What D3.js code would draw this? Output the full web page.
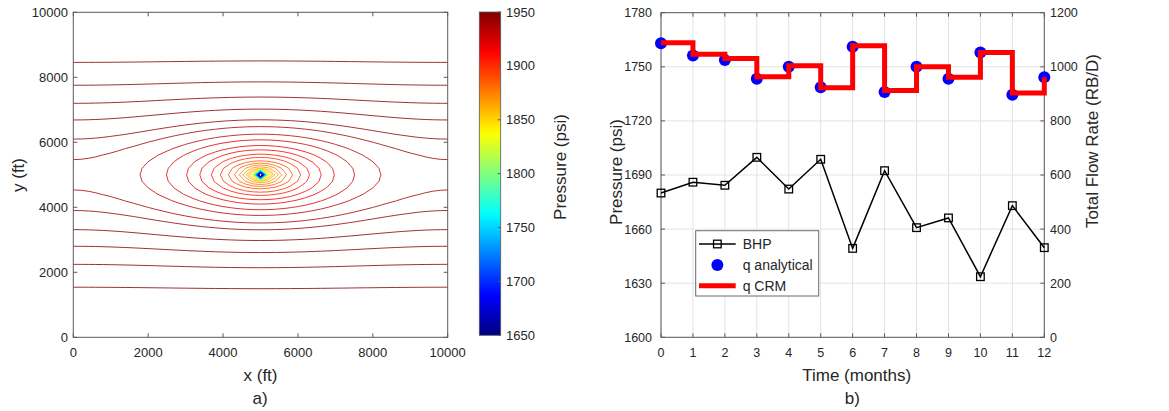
<!DOCTYPE html>
<html><head><meta charset="utf-8">
<script src="https://cdn.jsdelivr.net/npm/d3@7"></script>
<style>
html,body{margin:0;padding:0;background:#fff;}
svg{display:block;font-family:"Liberation Sans",Arial,Helvetica,sans-serif;}
</style></head><body>
<svg id="fig" width="1169" height="411"></svg>
<script>
// ---------- Panel (a): pressure contours around the producer ----------
const xTicksA = [0, 2000, 4000, 6000, 8000, 10000];
const yTicksA = [0, 2000, 4000, 6000, 8000, 10000];
const colorbarTicks = [1650, 1700, 1750, 1800, 1850, 1900, 1950];
const colorRange = [1650, 1950];

// reservoir / well description used to build the pressure grid
const wellX = 5000, wellY = 5000;       // ft
const reservoirWidth = 10000;           // ft, no-flow sides
const gridStep = 200;                   // ft
const anisotropy = 1.96;                // sqrt(kx/ky)
const fieldBase = 1926, fieldSlope = 36;   // psi
const wellNodePressure = 1600;          // psi at the well block

// contour levels (psi)
const outerLevels = [1990.7, 1975.8, 1964.6, 1955.2, 1946.2, 1940];
const ringLevels = [1932.5, 1926.1, 1918.9, 1912.6, 1905.4, 1898.5, 1890.6];
const innerLevels = [1883, 1876, 1869, 1862, 1855, 1848, 1841, 1834, 1827, 1820,
  1813, 1806, 1799, 1792, 1785, 1778, 1771, 1764, 1757, 1750, 1743, 1736, 1729,
  1722, 1715, 1708, 1701, 1694, 1687, 1680, 1673, 1666, 1659];

// ---------- Panel (b): BHP and rates ----------
const months = [0, 1, 2, 3, 4, 5, 6, 7, 8, 9, 10, 11, 12];
const bhp = [1680, 1686, 1684.3, 1699.8, 1682.2, 1698.7, 1649.3, 1692.4, 1660.8, 1666.2, 1633.6, 1673, 1649.7];
const qAnalytical = [1087, 1042, 1025, 956, 1000, 924, 1074, 907, 1000, 956, 1053, 897, 961];
const qCRM = [1089, 1046, 1031, 963, 1004, 923, 1078, 912, 1000, 961, 1053, 903, 961];
const pressureTicks = [1600, 1630, 1660, 1690, 1720, 1750, 1780];
const rateTicks = [0, 200, 400, 600, 800, 1000, 1200];
const legendLabels = ["BHP", "q analytical", "q CRM"];

const svg = d3.select("#fig");
const axisColor = "#5a5a5a", textColor = "#262626";

function jet(v) {
  const t = Math.max(0, Math.min(1, (v - colorRange[0]) / (colorRange[1] - colorRange[0])));
  const c = x => Math.round(255 * Math.max(0, Math.min(1, x)));
  return `rgb(${c(1.5 - Math.abs(4 * t - 3))},${c(1.5 - Math.abs(4 * t - 2))},${c(1.5 - Math.abs(4 * t - 1))})`;
}

// ===== Panel (a) =====
const A = {left: 73.3, right: 447.7, top: 12.3, bottom: 337.3};
const xA = d3.scaleLinear().domain([0, 10000]).range([A.left, A.right]);
const yA = d3.scaleLinear().domain([0, 10000]).range([A.bottom, A.top]);

// pressure grid (extends two blocks past each edge)
const pad = 2 * gridStep;
const n = Math.round((10000 + 2 * pad) / gridStep) + 1;
const period = reservoirWidth / anisotropy;
const values = new Array(n * n);
for (let j = 0; j < n; j++) {
  for (let i = 0; i < n; i++) {
    const x = -pad + i * gridStep, y = -pad + j * gridStep;
    const X = (x - wellX) / anisotropy, Y = y - wellY;
    let p;
    if (Math.abs(x - wellX) < 1e-6 && Math.abs(y - wellY) < 1e-6) {
      p = wellNodePressure;
    } else {
      const G = 0.5 * Math.log(Math.cosh(2 * Math.PI * Y / period) - Math.cos(2 * Math.PI * X / period));
      p = fieldBase + fieldSlope * G;
    }
    values[j * n + i] = p;
  }
}
const levels = outerLevels.concat(ringLevels, innerLevels);
const contours = d3.contours().size([n, n]).thresholds(levels)(values);
const gridToPx = d3.geoTransform({
  point(cx, cy) {
    this.stream.point(xA(-pad + (cx - 0.5) * gridStep), yA(-pad + (cy - 0.5) * gridStep));
  }
});
const pathA = d3.geoPath(gridToPx);

svg.append("defs").append("clipPath").attr("id", "clipA")
  .append("rect").attr("x", A.left).attr("y", A.top)
  .attr("width", A.right - A.left).attr("height", A.bottom - A.top);

const gA = svg.append("g");
gA.append("g").attr("clip-path", "url(#clipA)")
  .selectAll("path").data(contours.slice().reverse()).join("path")
  .attr("d", pathA)
  .attr("fill", "none")
  .attr("stroke", d => jet(d.value))
  .attr("stroke-opacity", 0.8)
  .attr("stroke-width", 1);

// frame and ticks
function frame(g, r) {
  g.append("rect").attr("x", r.left).attr("y", r.top)
    .attr("width", r.right - r.left).attr("height", r.bottom - r.top)
    .attr("fill", "none").attr("stroke", axisColor).attr("stroke-width", 1);
}
frame(gA, A);
const tl = 4;
xTicksA.forEach(v => {
  const x = xA(v);
  gA.append("line").attr("x1", x).attr("x2", x).attr("y1", A.bottom).attr("y2", A.bottom - tl).attr("stroke", axisColor);
  gA.append("line").attr("x1", x).attr("x2", x).attr("y1", A.top).attr("y2", A.top + tl).attr("stroke", axisColor);
  gA.append("text").attr("x", x).attr("y", 357).attr("text-anchor", "middle")
    .attr("font-size", 13).attr("fill", textColor).text(v);
});
yTicksA.forEach(v => {
  const y = yA(v);
  gA.append("line").attr("x1", A.left).attr("x2", A.left + tl).attr("y1", y).attr("y2", y).attr("stroke", axisColor);
  gA.append("line").attr("x1", A.right).attr("x2", A.right - tl).attr("y1", y).attr("y2", y).attr("stroke", axisColor);
  gA.append("text").attr("x", 68).attr("y", y + 4.6).attr("text-anchor", "end")
    .attr("font-size", 13).attr("fill", textColor).text(v);
});
gA.append("text").attr("x", 260.5).attr("y", 381).attr("text-anchor", "middle")
  .attr("font-size", 17).attr("fill", textColor).text("x (ft)");
gA.append("text").attr("transform", "translate(24,175) rotate(-90)").attr("text-anchor", "middle")
  .attr("font-size", 17).attr("fill", textColor).text("y (ft)");
gA.append("text").attr("x", 260).attr("y", 404).attr("text-anchor", "middle")
  .attr("font-size", 17).attr("fill", textColor).text("a)");

// colorbar
const CB = {left: 479.3, right: 500.7, top: 12, bottom: 335.3};
const cScale = d3.scaleLinear().domain(colorRange).range([CB.bottom, CB.top]);
const grad = svg.select("defs").append("linearGradient").attr("id", "jetGrad")
  .attr("x1", 0).attr("y1", 1).attr("x2", 0).attr("y2", 0);
d3.range(0, 1.0001, 0.02).forEach(t => {
  grad.append("stop").attr("offset", t).attr("stop-color", jet(colorRange[0] + t * (colorRange[1] - colorRange[0])));
});
svg.append("rect").attr("x", CB.left).attr("y", CB.top)
  .attr("width", CB.right - CB.left).attr("height", CB.bottom - CB.top)
  .attr("fill", "url(#jetGrad)").attr("stroke", axisColor).attr("stroke-width", 0.8);
colorbarTicks.forEach(v => {
  const y = cScale(v);
  svg.append("line").attr("x1", CB.right).attr("x2", CB.right - 3).attr("y1", y).attr("y2", y).attr("stroke", axisColor);
  svg.append("text").attr("x", 506).attr("y", y + 4.6).attr("font-size", 13).attr("fill", textColor).text(v);
});
svg.append("text").attr("transform", "translate(566,167) rotate(-90)").attr("text-anchor", "middle")
  .attr("font-size", 17).attr("fill", textColor).text("Pressure (psi)");

// ===== Panel (b) =====
const B = {left: 661, right: 1044.3, top: 12.7, bottom: 337.3};
const xB = d3.scaleLinear().domain([0, 12]).range([B.left, B.right]);
const yP = d3.scaleLinear().domain([1600, 1780]).range([B.bottom, B.top]);
const yQ = d3.scaleLinear().domain([0, 1200]).range([B.bottom, B.top]);
const gB = svg.append("g");
const tickFontB = 12.5;

// grid
months.forEach(m => gB.append("line").attr("x1", xB(m)).attr("x2", xB(m))
  .attr("y1", B.top).attr("y2", B.bottom).attr("stroke", "#e3e3e3"));
pressureTicks.forEach(v => gB.append("line").attr("x1", B.left).attr("x2", B.right)
  .attr("y1", yP(v)).attr("y2", yP(v)).attr("stroke", "#e3e3e3"));

frame(gB, B);
months.forEach(m => {
  const x = xB(m);
  gB.append("line").attr("x1", x).attr("x2", x).attr("y1", B.bottom).attr("y2", B.bottom - tl).attr("stroke", axisColor);
  gB.append("line").attr("x1", x).attr("x2", x).attr("y1", B.top).attr("y2", B.top + tl).attr("stroke", axisColor);
  gB.append("text").attr("x", x).attr("y", 357).attr("text-anchor", "middle")
    .attr("font-size", tickFontB).attr("fill", textColor).text(m);
});
pressureTicks.forEach(v => {
  const y = yP(v);
  gB.append("line").attr("x1", B.left).attr("x2", B.left + tl).attr("y1", y).attr("y2", y).attr("stroke", axisColor);
  gB.append("text").attr("x", 652).attr("y", y + 4.4).attr("text-anchor", "end")
    .attr("font-size", tickFontB).attr("fill", textColor).text(v);
});
rateTicks.forEach(v => {
  const y = yQ(v);
  gB.append("line").attr("x1", B.right).attr("x2", B.right - tl).attr("y1", y).attr("y2", y).attr("stroke", axisColor);
  gB.append("text").attr("x", 1050).attr("y", y + 4.4).attr("text-anchor", "start")
    .attr("font-size", tickFontB).attr("fill", textColor).text(v);
});

// BHP line with square markers
const bhpLine = d3.line().x((d, i) => xB(months[i])).y(d => yP(d));
gB.append("path").attr("d", bhpLine(bhp)).attr("fill", "none").attr("stroke", "#000").attr("stroke-width", 1.5);
gB.selectAll("rect.bhp").data(bhp).join("rect").attr("class", "bhp")
  .attr("x", (d, i) => xB(months[i]) - 3.8).attr("y", d => yP(d) - 3.8)
  .attr("width", 7.6).attr("height", 7.6)
  .attr("fill", "none").attr("stroke", "#000").attr("stroke-width", 1.3);

// analytical rate points
gB.selectAll("circle.qa").data(qAnalytical).join("circle").attr("class", "qa")
  .attr("cx", (d, i) => xB(months[i])).attr("cy", d => yQ(d)).attr("r", 6)
  .attr("fill", "#0000ff");

// CRM rate, stepwise
const crmLine = d3.line().curve(d3.curveStepAfter).x((d, i) => xB(months[i])).y(d => yQ(d));
gB.append("path").attr("d", crmLine(qCRM)).attr("fill", "none")
  .attr("stroke", "#ff0000").attr("stroke-width", 5).attr("stroke-linejoin", "miter");

// labels
gB.append("text").attr("x", 856.7).attr("y", 381).attr("text-anchor", "middle")
  .attr("font-size", 17).attr("fill", textColor).text("Time (months)");
gB.append("text").attr("x", 852.3).attr("y", 404).attr("text-anchor", "middle")
  .attr("font-size", 17).attr("fill", textColor).text("b)");
gB.append("text").attr("transform", "translate(622,172) rotate(-90)").attr("text-anchor", "middle")
  .attr("font-size", 17).attr("fill", textColor).text("Pressure (psi)");
gB.append("text").attr("transform", "translate(1098,141) rotate(-90)").attr("text-anchor", "middle")
  .attr("font-size", 17).attr("fill", textColor).text("Total Flow Rate (RB/D)");

// legend
const L = {x: 695.7, y: 230.7, w: 123, h: 65.3};
const gL = gB.append("g");
gL.append("rect").attr("x", L.x).attr("y", L.y).attr("width", L.w).attr("height", L.h)
  .attr("fill", "#fff").attr("stroke", "#6a6a6a").attr("stroke-width", 1);
const rowY = [244, 265, 285.7];
const sx1 = 699, sx2 = 735.7, sxm = (sx1 + sx2) / 2, tx = 742.7;
gL.append("line").attr("x1", sx1).attr("x2", sx2).attr("y1", rowY[0]).attr("y2", rowY[0])
  .attr("stroke", "#000").attr("stroke-width", 1.5);
gL.append("rect").attr("x", sxm - 3.8).attr("y", rowY[0] - 3.8).attr("width", 7.6).attr("height", 7.6)
  .attr("fill", "none").attr("stroke", "#000").attr("stroke-width", 1.3);
gL.append("circle").attr("cx", sxm).attr("cy", rowY[1]).attr("r", 6).attr("fill", "#0000ff");
gL.append("line").attr("x1", sx1).attr("x2", sx2).attr("y1", rowY[2]).attr("y2", rowY[2])
  .attr("stroke", "#ff0000").attr("stroke-width", 5);
legendLabels.forEach((t, i) => gL.append("text").attr("x", tx).attr("y", rowY[i] + 5)
  .attr("font-size", 14).attr("fill", textColor).text(t));
</script>
</body></html>
